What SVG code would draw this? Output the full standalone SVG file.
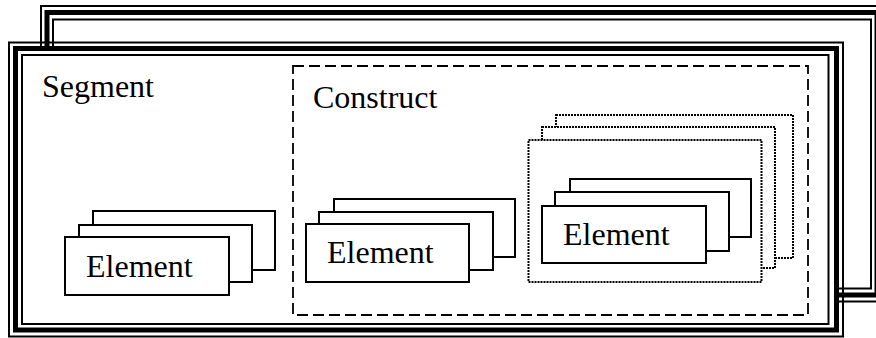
<svg xmlns="http://www.w3.org/2000/svg" width="876" height="338" viewBox="0 0 876 338">
<style>
.thin{fill:none;stroke:#000;stroke-width:2}
.thick{fill:#fff;stroke:#000;stroke-width:5}
.box{fill:#fff;stroke:#000;stroke-width:2}
.dash{fill:none;stroke:#000;stroke-width:1.8;stroke-dasharray:11 5}
.dot{fill:#fff;stroke:#000;stroke-width:2;stroke-dasharray:2 1}
.lbl{font-family:"Liberation Serif","Times New Roman",serif;font-size:32px;fill:#000}
</style>
<rect width="876" height="338" fill="#fff"/>
<g id="back-frame">
<rect class="thin" x="41" y="6" width="843" height="295.5"/>
<rect class="thick" x="47" y="12.5" width="830" height="282.5"/>
<rect class="thin" x="53" y="19.5" width="818" height="269"/>
</g>
<g id="segment">
<rect class="thin" x="9" y="42.5" width="834" height="294"/>
<rect class="thick" x="15.5" y="48.5" width="821" height="281.5"/>
<rect class="thin" x="22" y="55" width="806.5" height="269"/>
<text class="lbl" x="42" y="97">Segment</text>
</g>
<g id="segment-elements">
<rect class="box" x="93" y="211" width="182" height="59"/>
<rect class="box" x="79" y="225" width="173" height="57"/>
<rect class="box" x="65" y="237" width="164" height="58"/>
<text class="lbl" x="86" y="277">Element</text>
</g>
<g id="construct">
<rect class="dash" x="293" y="66" width="515" height="249"/>
<text class="lbl" x="313" y="108">Construct</text>
</g>
<g id="construct-elements">
<rect class="box" x="334" y="199" width="181" height="58"/>
<rect class="box" x="319" y="212" width="174" height="58"/>
<rect class="box" x="306" y="224" width="163" height="58"/>
<text class="lbl" x="327" y="263">Element</text>
</g>
<g id="nested-constructs">
<rect class="dot" x="556" y="115" width="237" height="143"/>
<rect class="dot" x="542" y="127" width="233" height="141"/>
<rect class="dot" x="528.5" y="140" width="233" height="142"/>
</g>
<g id="nested-elements">
<rect class="box" x="570" y="179" width="181" height="58"/>
<rect class="box" x="555" y="192" width="174" height="59"/>
<rect class="box" x="542" y="206" width="164" height="57"/>
<text class="lbl" x="563" y="245">Element</text>
</g>
<g id="connectors"></g>
</svg>
